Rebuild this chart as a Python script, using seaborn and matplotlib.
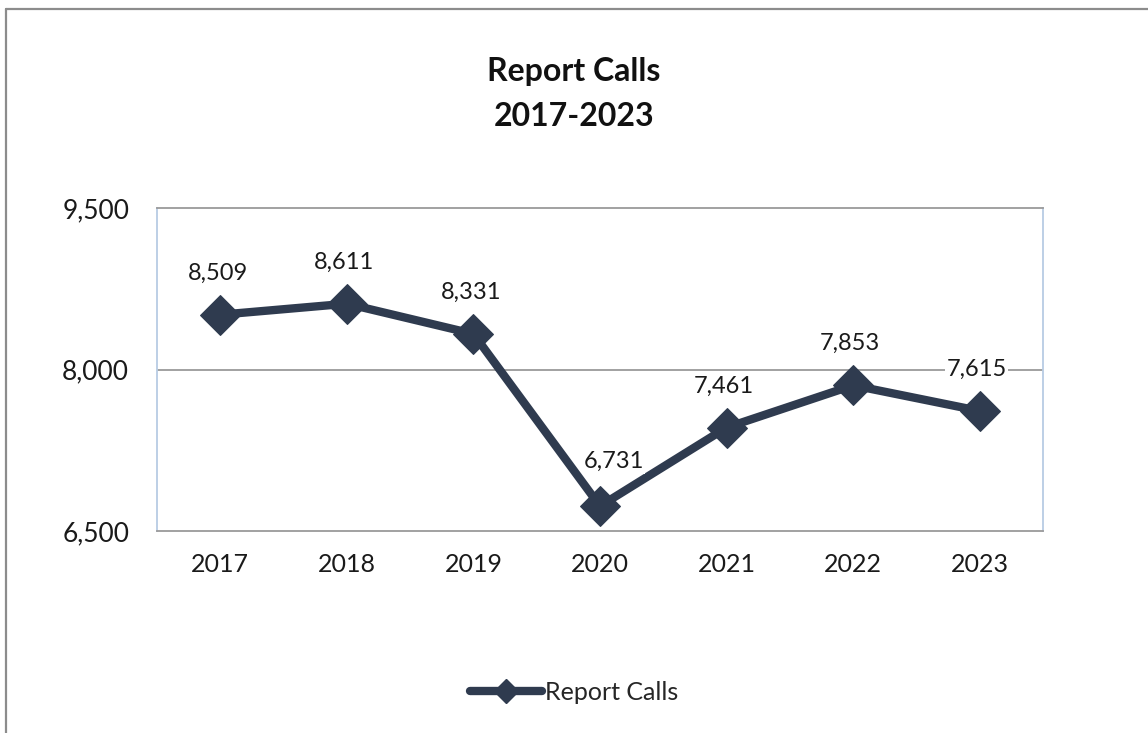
import pandas as pd
import seaborn as sns
import matplotlib.pyplot as plt
from matplotlib.lines import Line2D

years = ["2017", "2018", "2019", "2020", "2021", "2022", "2023"]
calls = [8509, 8611, 8331, 6731, 7461, 7853, 7615]
y_ticks = [6500, 8000, 9500]

data = pd.DataFrame({"Year": years, "Calls": calls})
data["pos"] = range(len(years))

sns.set_style("white")
plt.rcParams["font.family"] = ["Lato", "DejaVu Sans"]

line_col = "#2F3B4F"
fig = plt.figure(figsize=(11.48, 7.33), dpi=100)
ax = fig.add_axes([157 / 1148, 1 - 531 / 733, (1043 - 157) / 1148, (531 - 208) / 733])

sns.lineplot(data=data, x="pos", y="Calls", ax=ax, color=line_col, linewidth=6,
             marker="D", markersize=20, markeredgecolor=line_col, label="Report Calls",
             legend=False)

# data labels above the points (the 2020 one sits a little to the right)
for i, v in enumerate(calls):
    dx, dy = (10, 32) if i == 3 else (-2, 30)
    ax.annotate(f"{v:,}", (i, v), xytext=(dx, dy), textcoords="offset points",
                ha="center", va="center", fontsize=17, color="#1a1a1a", zorder=5,
                bbox=dict(facecolor="white", edgecolor="none", pad=1))

ax.set_xlim(-0.5, 6.5)
ax.set_ylim(6500, 9500)
ax.set_yticks(y_ticks)
ax.set_yticklabels([f"{t:,}" for t in y_ticks], fontsize=19, color="#1a1a1a")
ax.set_xticks(range(len(years)))
ax.set_xticklabels(years, fontsize=18, color="#1a1a1a")
ax.set_xticks([i - 0.5 for i in range(len(years) + 1)], minor=True)
ax.tick_params(axis="x", which="major", length=0, pad=16)
ax.tick_params(axis="x", which="minor", length=7, width=1.3, color="#8c8c8c", direction="out")
ax.tick_params(axis="y", length=7, width=1.3, color="#8c8c8c", direction="out", pad=13)
ax.set_xlabel("")
ax.set_ylabel("")

ax.axhline(8000, color="#9a9a9a", linewidth=1.3, zorder=0)
for side in ["top", "bottom"]:
    ax.spines[side].set_color("#9a9a9a")
    ax.spines[side].set_linewidth(1.3)
for side in ["left", "right"]:
    ax.spines[side].set_color("#b8cce4")
    ax.spines[side].set_linewidth(1.3)

fig.text(0.5, 1 - 72 / 733, "Report Calls", ha="center", va="center",
         fontsize=23, fontweight="bold", color="#111111")
fig.text(0.5, 1 - 117 / 733, "2017-2023", ha="center", va="center",
         fontsize=23, fontweight="bold", color="#111111")

handle = Line2D([], [], color=line_col, linewidth=6, marker="D", markersize=12,
                markeredgecolor=line_col, solid_capstyle="round")
fig.legend([handle], ["Report Calls"], loc="center", bbox_to_anchor=(0.5, 1 - 692 / 733),
           frameon=False, fontsize=18, handlelength=2.9, handletextpad=0.1)

# outer chart border
fig.add_artist(Line2D([6 / 1148, 6 / 1148], [0, 1 - 9 / 733], color="#8c8c8c", linewidth=1.6))
fig.add_artist(Line2D([6 / 1148, 1], [1 - 9 / 733, 1 - 9 / 733], color="#8c8c8c", linewidth=1.6))

plt.savefig("out.png", dpi=100)
